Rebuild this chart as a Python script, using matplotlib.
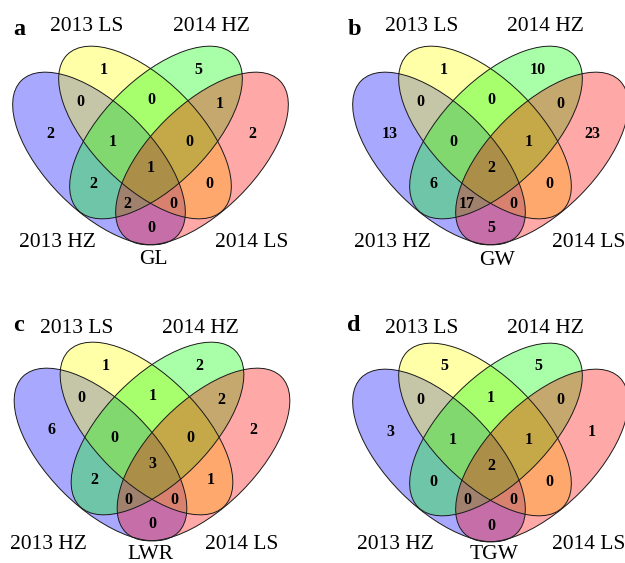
import matplotlib.pyplot as plt
from matplotlib.patches import Ellipse

# === Data ===
set_names = ["2013 HZ", "2013 LS", "2014 HZ", "2014 LS"]
traits = ["GL", "GW", "LWR", "TGW"]
panel_letters = ["a", "b", "c", "d"]

# region order: HZ13, LS13, HZ14, LS14, HZ13&LS13, LS13&HZ14, HZ14&LS14,
# HZ13&LS13&HZ14, LS13&HZ14&LS14, HZ13&HZ14, LS13&LS14, all four,
# HZ13&HZ14&LS14, HZ13&LS13&LS14, HZ13&LS14
counts_gl = [2, 1, 5, 2, 0, 0, 1, 1, 0, 2, 0, 1, 2, 0, 0]
counts_gw = [13, 1, 10, 23, 0, 0, 0, 0, 1, 6, 0, 2, 17, 0, 5]
counts_lwr = [6, 1, 2, 2, 0, 1, 2, 0, 0, 2, 1, 3, 0, 0, 0]
counts_tgw = [3, 5, 5, 1, 0, 1, 0, 1, 1, 0, 0, 2, 0, 0, 0]
all_counts = [counts_gl, counts_gw, counts_lwr, counts_tgw]

# === Layout (pixels, y down) ===
fills = ["#0000ff", "#ffff00", "#00ff00", "#ff0000"]
alpha = 0.34
ell_centers = [(99, 158.5), (145, 132.5), (156, 132.5), (202, 158.5)]
ell_angles = [45, 45, -45, -45]
ell_w, ell_h = 220, 106

region_xy = [(50, 133), (104, 68), (198, 68), (252, 133), (80, 101), (151, 99),
             (220, 102), (113, 141), (189, 141), (93, 183), (209, 183),
             (151, 167), (127, 202), (173, 202), (151, 227)]

panel_origin = [(0, 0), (340, 0), (1.5, 296), (340, 297)]
# set label x positions (order: 2013 HZ, 2013 LS, 2014 HZ, 2014 LS) and trait label x
label_x = [[57, 87, 211, 252, 153],
           [392, 422, 545, 589, 497],
           [48, 77, 200, 242, 150],
           [395, 422, 545, 589, 494]]
top_base = [30.7, 30.7, 333, 333]
bot_base = [246.7, 247.3, 548.7, 548.7]
trait_base = [264, 265, 559, 559]
letter_xy = [(13.3, 35), (348, 35), (13.3, 331.3), (347, 331.3)]

serif = "Liberation Serif"

fig = plt.figure(figsize=(6.25, 5.63), dpi=100)
ax = fig.add_axes([0, 0, 1, 1])
ax.set_xlim(0, 625)
ax.set_ylim(563, 0)
ax.axis("off")

for p in range(4):
    ox, oy = panel_origin[p]
    # fills first, then outlines on top
    for (cx, cy), ang, col in zip(ell_centers, ell_angles, fills):
        ax.add_patch(Ellipse((ox + cx, oy + cy), ell_w, ell_h, angle=ang,
                             facecolor=col, alpha=alpha, edgecolor="none"))
    for (cx, cy), ang in zip(ell_centers, ell_angles):
        ax.add_patch(Ellipse((ox + cx, oy + cy), ell_w, ell_h, angle=ang,
                             facecolor="none", edgecolor="#1a1a1a", lw=0.7))

    for (rx, ry), n in zip(region_xy, all_counts[p]):
        ax.text(ox + rx, oy + ry + 5.5, str(n), ha="center", va="baseline",
                fontsize=11.5, fontweight="bold", family=serif)

    lx = label_x[p]
    ax.text(lx[0], bot_base[p], set_names[0], ha="center", va="baseline", fontsize=15.5, family=serif)
    ax.text(lx[1], top_base[p], set_names[1], ha="center", va="baseline", fontsize=15.5, family=serif)
    ax.text(lx[2], top_base[p], set_names[2], ha="center", va="baseline", fontsize=15.5, family=serif)
    ax.text(lx[3], bot_base[p], set_names[3], ha="center", va="baseline", fontsize=15.5, family=serif)
    ax.text(lx[4], trait_base[p], traits[p], ha="center", va="baseline", fontsize=15.5, family=serif)
    ax.text(letter_xy[p][0], letter_xy[p][1], panel_letters[p], ha="left", va="baseline",
            fontsize=17.5, fontweight="bold", family=serif)

fig.savefig("out.png", dpi=100)
